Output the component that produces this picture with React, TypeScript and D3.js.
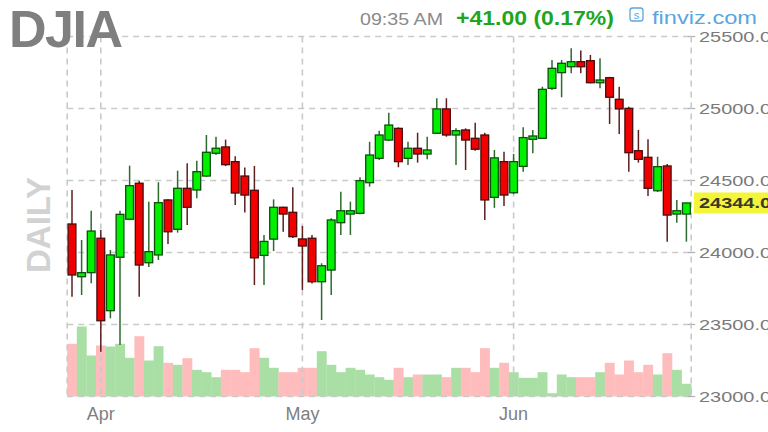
import React from "react";
import * as d3 from "d3";

const dates = [
  "2018-03-27","2018-03-28","2018-03-29",
  "2018-04-02","2018-04-03","2018-04-04","2018-04-05","2018-04-06","2018-04-09","2018-04-10","2018-04-11","2018-04-12","2018-04-13",
  "2018-04-16","2018-04-17","2018-04-18","2018-04-19","2018-04-20","2018-04-23","2018-04-24","2018-04-25","2018-04-26","2018-04-27","2018-04-30",
  "2018-05-01","2018-05-02","2018-05-03","2018-05-04","2018-05-07","2018-05-08","2018-05-09","2018-05-10","2018-05-11",
  "2018-05-14","2018-05-15","2018-05-16","2018-05-17","2018-05-18","2018-05-21","2018-05-22","2018-05-23","2018-05-24","2018-05-25",
  "2018-05-29","2018-05-30","2018-05-31",
  "2018-06-01","2018-06-04","2018-06-05","2018-06-06","2018-06-07","2018-06-08","2018-06-11","2018-06-12","2018-06-13","2018-06-14",
  "2018-06-15","2018-06-18","2018-06-19","2018-06-20","2018-06-21","2018-06-22","2018-06-25","2018-06-26","2018-06-27",
];

const opens = [
  24198, 23832, 23860, 24099, 23596, 23967, 24231, 24481, 23929, 23983,
  24365, 24161, 24446, 24434, 24531, 24689, 24733, 24631, 24531, 24432,
  23980, 24093, 24314, 24279, 24094, 24099, 23797, 23878, 24207, 24267,
  24272, 24485, 24654, 24781, 24862, 24654, 24724, 24684, 24828, 24997,
  24816, 24851, 24793, 24816, 24383, 24631, 24415, 24598, 24786, 24793,
  25140, 25249, 25290, 25325, 25332, 25179, 25214, 25064, 25001, 24707,
  24661, 24429, 24601, 24267, 24267,
];
const highs = [
  24434, 24087, 24290, 24156, 24017, 24290, 24603, 24499, 24353, 24488,
  24370, 24568, 24619, 24638, 24816, 24804, 24784, 24668, 24590, 24601,
  24122, 24369, 24318, 24453, 24184, 24122, 23925, 24237, 24422, 24353,
  24522, 24769, 24846, 24971, 24869, 24769, 24832, 24804, 25071, 25071,
  24862, 24862, 24901, 24832, 24712, 24700, 24684, 24869, 24851, 25151,
  25337, 25337, 25418, 25402, 25372, 25349, 25220, 25151, 25013, 24851,
  24786, 24665, 24615, 24365, 24346,
];
const lows = [
  23693, 23705, 23786, 23311, 23543, 23358, 24225, 23693, 23900, 23948,
  24059, 24138, 24191, 24376, 24525, 24677, 24600, 24330, 24278, 23774,
  23774, 24010, 24144, 24100, 23740, 23785, 23531, 23705, 24122, 24122,
  24265, 24457, 24642, 24775, 24592, 24608, 24624, 24647, 24825, 24804,
  24608, 24573, 24707, 24226, 24310, 24323, 24405, 24561, 24689, 24788,
  25128, 25078, 25244, 25244, 25175, 25140, 24892, 24823, 24561, 24624,
  24392, 24420, 24075, 24207, 24075,
];
const closes = [
  23844, 23860, 24149, 23526, 23983, 24265, 24464, 23913, 24006, 24346,
  24144, 24446, 24314, 24561, 24696, 24724, 24610, 24413, 24399, 23963,
  24077, 24314, 24267, 24110, 24045, 23797, 23908, 24226, 24290, 24290,
  24499, 24677, 24816, 24885, 24631, 24724, 24684, 24712, 24997, 24816,
  24846, 24781, 24717, 24365, 24657, 24399, 24631, 24798, 24809, 25133,
  25279, 25314, 25325, 25290, 25179, 25198, 25078, 24997, 24693, 24647,
  24446, 24596, 24260, 24290, 24344,
];
const volumes = [
  527, 700, 410, 510, 500, 527, 387, 603, 360, 503,
  337, 317, 383, 267, 243, 193, 267, 267, 243, 483,
  387, 287, 243, 243, 287, 287, 453, 317, 243, 287,
  267, 220, 193, 167, 287, 193, 220, 220, 220, 193,
  287, 287, 243, 483, 287, 337, 243, 187, 187, 243,
  33, 220, 193, 193, 193, 243, 337, 220, 360, 243,
  317, 220, 433, 267, 127,
];

const priceTicks = [23000, 23500, 24000, 24500, 25000, 25500];
const monthNames = ["Jan","Feb","Mar","Apr","May","Jun","Jul","Aug","Sep","Oct","Nov","Dec"];
const title = "DJIA";
const timeText = "09:35 AM";
const changeText = "+41.00 (0.17%)";
const lastLabel = "24344.0";

export default function App() {
  const W = 768, H = 432;
  const left = 67.2, right = 691.2, top = 36.5, bottom = 396.5;
  const x = d3.scaleBand<number>().domain(d3.range(dates.length)).range([left, right]).padding(0);
  const y = d3.scaleLinear().domain([23000, 25500]).range([bottom, top]);
  const v = d3.scaleLinear().domain([0, 720]).range([bottom, bottom - 72]);
  const bw = x.bandwidth();
  const cx = (i: number) => (x(i) as number) + bw / 2;

  const monthStarts: number[] = [];
  dates.forEach((d, i) => {
    if (i > 0 && d.slice(5, 7) !== dates[i - 1].slice(5, 7)) monthStarts.push(i);
  });

  const grid = "#c9c9c9";
  const dash = "6,5";
  const font = "'Liberation Sans', Arial, sans-serif";

  return (
    <svg width={W} height={H} style={{ position: "absolute", left: 0, top: 0, background: "#fff" }}>
      {/* volume bars */}
      {volumes.map((vol, i) => (
        <rect key={"v" + i} x={x(i)} y={v(vol)} width={bw + 0.3} height={bottom - v(vol)}
          fill={closes[i] >= opens[i] ? "#a9dfa5" : "#ffbcbc"} />
      ))}
      {/* horizontal grid */}
      {priceTicks.map((t) => (
        <g key={"h" + t}>
          <line x1={left} x2={right} y1={y(t)} y2={y(t)} stroke={grid} strokeWidth={1.6} strokeDasharray={dash} />
          <line x1={right - 3} x2={right + 4} y1={y(t)} y2={y(t)} stroke="#b0b0b0" strokeWidth={1.2} />
        </g>
      ))}
      {/* vertical grid */}
      {[left, right].map((xx, k) => (
        <line key={"b" + k} x1={xx} x2={xx} y1={top} y2={bottom} stroke={grid} strokeWidth={1.6} strokeDasharray={dash} />
      ))}
      {monthStarts.map((i) => (
        <g key={"m" + i}>
          <line x1={cx(i)} x2={cx(i)} y1={top} y2={bottom} stroke={grid} strokeWidth={1.6} strokeDasharray={dash} />
          <text x={cx(i)} y={420} textAnchor="middle" fontFamily={font} fontSize={18} fill="#808080">
            {monthNames[+dates[i].slice(5, 7) - 1]}
          </text>
        </g>
      ))}
      {/* candles */}
      {dates.map((_, i) => {
        const up = closes[i] >= opens[i];
        const wick = up ? "#2d6a2d" : "#5e1f1f";
        const yTop = y(Math.max(opens[i], closes[i]));
        const yBot = y(Math.min(opens[i], closes[i]));
        return (
          <g key={"c" + i}>
            <line x1={cx(i)} x2={cx(i)} y1={y(highs[i])} y2={y(lows[i])} stroke={wick} strokeWidth={1.5} />
            <rect x={cx(i) - 3.9} y={yTop} width={7.8} height={Math.max(yBot - yTop, 1.5)}
              fill={up ? "#00f000" : "#f20000"} stroke={up ? "#0d4f0d" : "#4a0c0c"} strokeWidth={1.3} />
          </g>
        );
      })}
      {/* price axis labels */}
      {priceTicks.map((t) => (
        <text key={"l" + t} x={0} y={0} transform={`translate(699,${y(t) + 5.5}) scale(1.33,1)`}
          fontFamily={font} fontSize={15} fill="#7a7a7a">{t.toFixed(1)}</text>
      ))}
      {/* last price box */}
      <rect x={694} y={y(closes[closes.length - 1]) - 10.5} width={80} height={21} fill="#f4f43a" />
      <text x={0} y={0} transform={`translate(699,${y(closes[closes.length - 1]) + 5.5}) scale(1.33,1)`}
        fontFamily={font} fontSize={15} fontWeight="bold" fill="#3a3a2a">{lastLabel}</text>
      {/* title */}
      <text x={9} y={47} fontFamily={font} fontSize={52} fontWeight="bold" fill="#7f7f7f" letterSpacing={-1.5}>{title}</text>
      <text x={0} y={0} transform="translate(50,273) rotate(-90)" fontFamily={font} fontSize={33} fontWeight="bold" fill="#d2d2d2">DAILY</text>
      {/* header */}
      <text x={360} y={25} fontFamily={font} fontSize={17} fill="#8a8a8a" textLength={83} lengthAdjust="spacingAndGlyphs">{timeText}</text>
      <text x={456} y={25} fontFamily={font} fontSize={20} fontWeight="bold" fill="#1fa51f" textLength={158} lengthAdjust="spacingAndGlyphs">{changeText}</text>
      <rect x={630} y={8} width={13} height={13} rx={2.5} fill="none" stroke="#5aa6e0" strokeWidth={1.3} />
      <text x={636.5} y={19} textAnchor="middle" fontFamily={font} fontSize={11} fill="#5aa6e0">s</text>
      <text x={652} y={24} fontFamily={font} fontSize={18} fill="#5aa6e0" textLength={105} lengthAdjust="spacingAndGlyphs">finviz.com</text>
    </svg>
  );
}
